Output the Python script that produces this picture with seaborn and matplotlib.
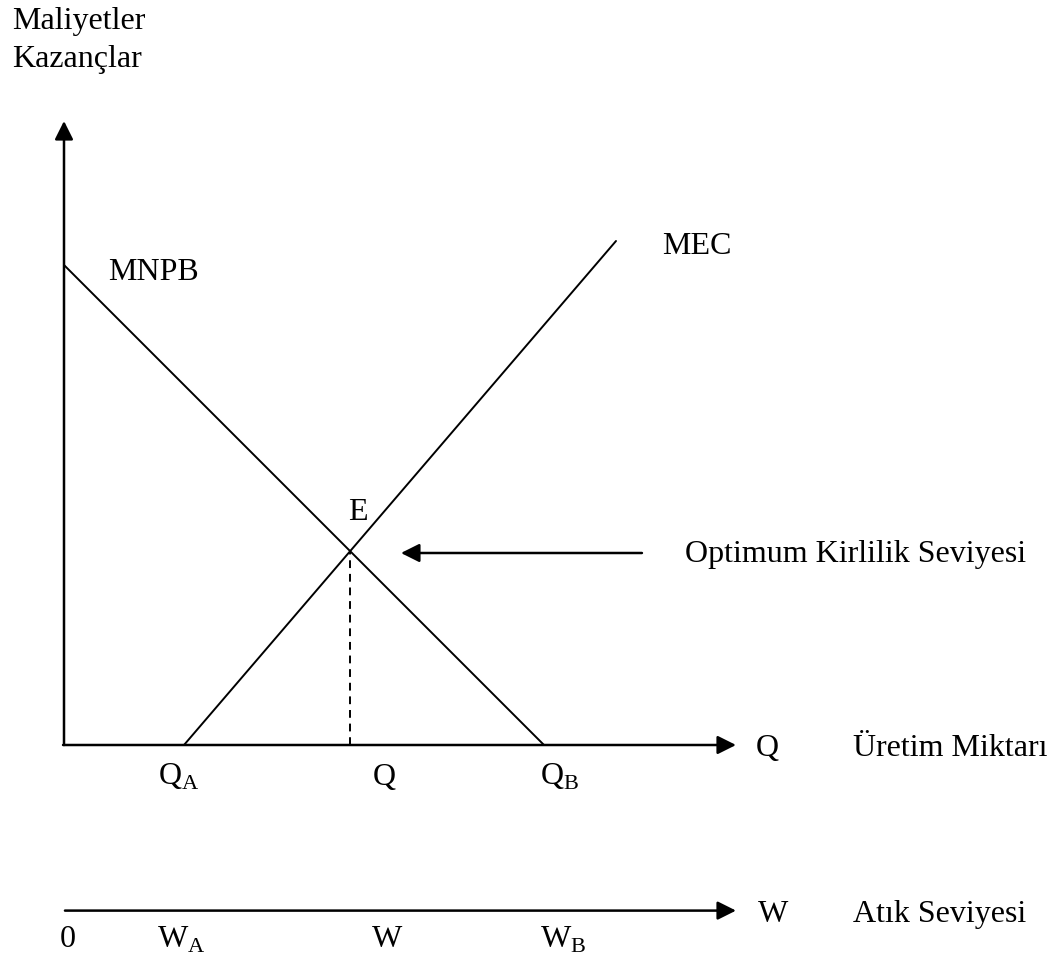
import pandas as pd
import matplotlib.pyplot as plt
import seaborn as sns

# curve end points (Q axis units)
mnpb_x = [0.0, 10.0]
mnpb_y = [10.0, 0.0]
mec_x = [2.5, 11.5]
mec_y = [0.0, 10.5]
e_x, e_y = 5.96, 4.04

q_labels = [r"$\mathrm{Q}_{\mathrm{A}}$", "Q", r"$\mathrm{Q}_{\mathrm{B}}$"]
q_pos = [1.96, 6.44, 9.92]
w_labels = ["0", r"$\mathrm{W}_{\mathrm{A}}$", "W", r"$\mathrm{W}_{\mathrm{B}}$"]
w_pos = [-0.08, 1.94, 6.42, 9.92]

y_top = 13.0
x_end = 14.0
w_level = -3.45
opt_from, opt_to = 12.04, 7.02

sns.set_theme(style="white")
plt.rcParams["font.family"] = ["Liberation Serif", "DejaVu Serif"]
plt.rcParams["mathtext.fontset"] = "custom"
plt.rcParams["mathtext.rm"] = "Liberation Serif"
plt.rcParams["text.color"] = "black"

fig = plt.figure(figsize=(10.58, 9.6), dpi=100)
ax = fig.add_axes([0, 0, 1, 1])
ax.set_xlim(-64 / 48, (1058 - 64) / 48)
ax.set_ylim(-215 / 48, 745 / 48)
ax.axis("off")

curves = pd.DataFrame({
    "x": mnpb_x + mec_x,
    "y": mnpb_y + mec_y,
    "curve": ["MNPB", "MNPB", "MEC", "MEC"],
})
sns.lineplot(data=curves, x="x", y="y", units="curve", estimator=None,
             color="black", lw=1.4, ax=ax, legend=False)
# dashed drop line from E to the Q axis
ax.plot([e_x, e_x], [0, e_y], color="black", lw=1.4, linestyle=(0, (4, 3)))

arrow = dict(arrowstyle="-|>", color="black", lw=1.8, mutation_scale=28,
             shrinkA=0, shrinkB=0)
ax.annotate("", xy=(0, y_top), xytext=(0, 0), arrowprops=arrow)
ax.annotate("", xy=(x_end, 0), xytext=(-0.02, 0), arrowprops=arrow)
ax.annotate("", xy=(x_end, w_level), xytext=(0.02, w_level), arrowprops=arrow)
ax.annotate("", xy=(opt_to, 4.0), xytext=(opt_from, 4.0), arrowprops=arrow)

fs = 23
ax.text(-1.08, 15.07, "Maliyetler", fontsize=fs, va="center")
ax.text(-1.08, 14.29, "Kazançlar", fontsize=fs, va="center")
ax.text(0.92, 9.85, "MNPB", fontsize=fs, va="center")
ax.text(12.46, 10.38, "MEC", fontsize=fs, va="center")
ax.text(5.92, 4.85, "E", fontsize=fs, va="center")
ax.text(12.94, 3.96, "Optimum Kirlilik Seviyesi", fontsize=fs, va="center")

for lab, px in zip(q_labels, q_pos):
    ax.text(px, -0.67, lab, fontsize=fs, va="center")
ax.text(14.42, -0.08, "Q", fontsize=fs, va="center")
ax.text(16.44, -0.08, "Üretim Miktarı", fontsize=fs, va="center")

for lab, px in zip(w_labels, w_pos):
    ax.text(px, -4.05, lab, fontsize=fs, va="center")
ax.text(14.46, w_level - 0.08, "W", fontsize=fs, va="center")
ax.text(16.44, w_level - 0.08, "Atık Seviyesi", fontsize=fs, va="center")

plt.savefig("out.png", dpi=100)
plt.close()
